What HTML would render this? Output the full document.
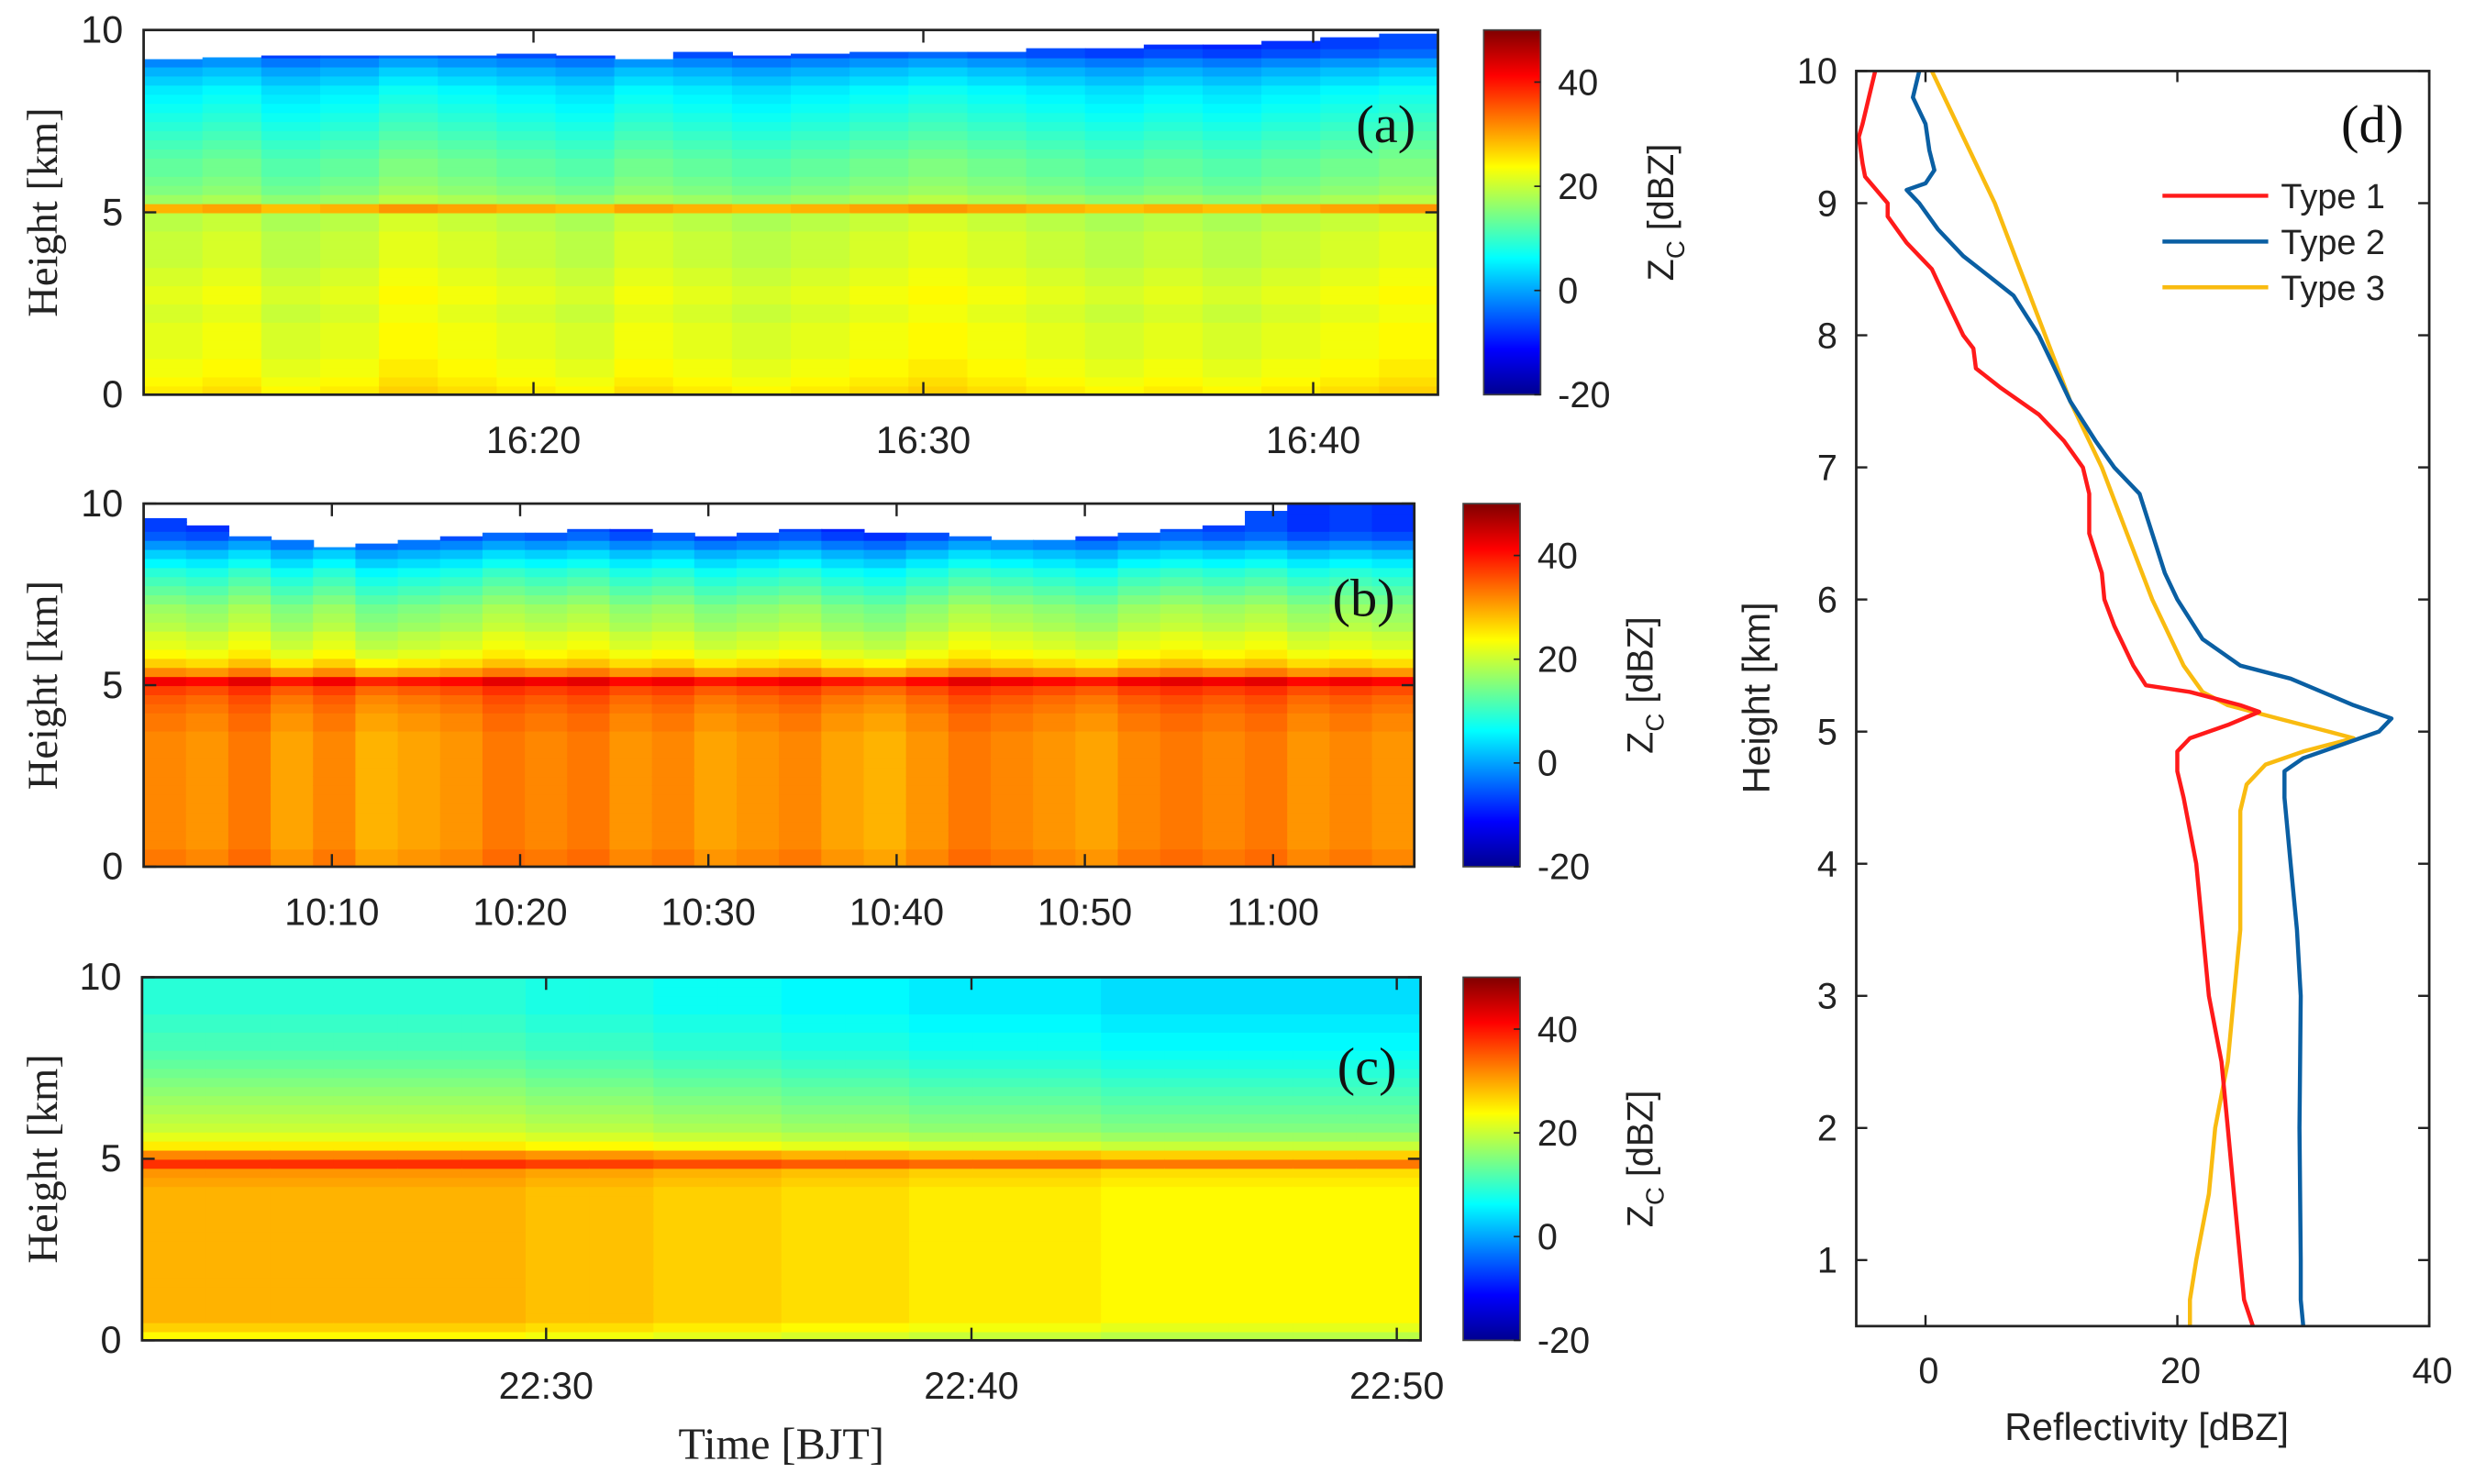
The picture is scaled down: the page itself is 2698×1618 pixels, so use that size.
<!DOCTYPE html>
<html><head><meta charset="utf-8">
<style>
html,body{margin:0;padding:0;background:#fff;}
svg{display:block;}
.sans{font-family:"Liberation Sans",Arial,sans-serif;}
.serif{font-family:"Liberation Serif","Times New Roman",serif;}
</style></head>
<body>
<svg id="fig" width="2698" height="1618" viewBox="0 0 1568 940" preserveAspectRatio="none" xmlns="http://www.w3.org/2000/svg">
<defs>
<linearGradient id="jetg" x1="0" y1="1" x2="0" y2="0">
<stop offset="0" stop-color="#00008f"/><stop offset="0.125" stop-color="#0000ff"/>
<stop offset="0.375" stop-color="#00ffff"/><stop offset="0.625" stop-color="#ffff00"/>
<stop offset="0.875" stop-color="#ff0000"/><stop offset="1" stop-color="#800000"/>
</linearGradient>
</defs>
</svg>
<script>
// ---- Heatmap data (dBZ), rows bottom->top every 0.25 km ----
const profileA = [25,24,23,23,22,22,22,22,21,21,22,22,21,21,20,20,20,20,19,19,29,17,15,14,13,13,12,11,10,9,8,7,6,5,3,1,-2,-6,-8,-8];
const offsetsA = [0,1,-1,0,2,1,0,-1,1,0,-1,0,1,2,1,0,-1,0,-1,0,1,2];
const topsA = [9.2,9.25,9.3,9.3,9.3,9.3,9.35,9.3,9.2,9.4,9.3,9.35,9.4,9.4,9.4,9.5,9.5,9.6,9.6,9.7,9.8,9.9];
const profileB = [32,32,31,31,31,31,31,31,31,31,31,31,31,31,31,32,32,33,34,36,41,31,26,23,21,20,18,17,16,14,12,10,8,5,2,-2,-6,-8,-8,-8];
const offsetsB = [1,0,2,-1,1,-2,-1,0,2,1,2,0,1,-1,0,1,-1,-2,0,2,1,0,-1,1,2,1,2,0,1,0];
const topsB = [9.6,9.4,9.1,9.0,8.8,8.9,9.0,9.1,9.2,9.2,9.3,9.3,9.2,9.1,9.2,9.3,9.3,9.2,9.2,9.1,9.0,9.0,9.1,9.2,9.3,9.4,9.8,10,10,10];
const profileC = [22,25,27,27,27,27,27,27,27,27,27,27,27,27,27,27,27,28,29,36,30,23,20,18,17,16,15,14,13,12,11,10,9,9,8,8,7,7,7,7];
const offsetsC = [2,2,2,2,2,2,1,1,0,0,-1,-1,-2,-2,-2,-3,-3,-3,-3,-3];
const topsC = [10,10,10,10,10,10,10,10,10,10,10,10,10,10,10,10,10,10,10,10];
const timeTicksA = [10,20,30]; const timeLabelsA = ["16:20","16:30","16:40"];
const timeTicksB = [10,20,30,40,50,60]; const timeLabelsB = ["10:10","10:20","10:30","10:40","10:50","11:00"];
const timeTicksC = [10,20,30]; const timeLabelsC = ["22:30","22:40","22:50"];
const heightTicks = [0,5,10];
const cbTicks = [-20,0,20,40];
// ---- Profile data (panel d) ----
const hT1 = [10,9.8,9.6,9.5,9.3,9.2,9.0,8.9,8.7,8.5,8.3,8.0,7.9,7.75,7.6,7.4,7.2,7.0,6.8,6.5,6.2,6.0,5.8,5.5,5.35,5.3,5.2,5.15,5.05,4.95,4.85,4.7,4.5,4.0,3.5,3.0,2.5,2.0,1.5,1.0,0.7,0.5];
const zT1 = [-4,-4.5,-5,-5.3,-5,-4.8,-3,-3,-1.5,0.5,1.5,3,3.8,4,6,9,11,12.5,13,13,14,14.2,15,16.5,17.5,21,25,26.5,24,21,20,20,20.5,21.5,22,22.5,23.5,24,24.5,25,25.3,26];
const hT2 = [10,9.8,9.6,9.4,9.25,9.15,9.1,9.0,8.8,8.6,8.45,8.3,8.0,7.8,7.5,7.2,7.0,6.8,6.5,6.2,6.0,5.7,5.5,5.4,5.2,5.1,5.0,4.9,4.8,4.7,4.5,4.0,3.5,3.0,2.0,1.0,0.7,0.5];
const zT2 = [-0.5,-1,0,0.3,0.7,0,-1.5,-0.5,1,3,5,7,9,10,11.5,13.5,15,17,18,19,20,22,25,29,34,37,36,33,30,28.5,28.5,29,29.5,29.8,29.7,29.8,29.8,30];
const hT3 = [10,9.5,9.0,8.5,8.0,7.5,7.2,7.0,6.5,6.0,5.5,5.3,5.2,5.1,5.0,4.95,4.85,4.75,4.6,4.4,4.0,3.5,3.0,2.5,2.0,1.5,1.0,0.7,0.5];
const zT3 = [0.5,3,5.5,7.5,9.5,11.5,13,14,16,18,20.5,22,24,28,32,34,30,27,25.5,25,25,25,24.5,24,23,22.5,21.5,21,21];
const dTicksX = [0,20,40]; const dTicksY = [1,2,3,4,5,6,7,8,9,10];

const NS="http://www.w3.org/2000/svg";
const svg=document.getElementById('fig');
function mk(tag,attrs,parent){const e=document.createElementNS(NS,tag);for(const k in attrs)e.setAttribute(k,attrs[k]);(parent||svg).appendChild(e);return e;}
function jet(v){let t=(v+20)/70;t=Math.max(0,Math.min(1,t));const c=x=>Math.round(255*Math.max(0,Math.min(1,1.5-Math.abs(x))));return `rgb(${c(4*t-3)},${c(4*t-2)},${c(4*t-1)})`;}

function panel(p){
  const g=mk('g',{});
  
  
  const W=p.x1-p.x0,H=p.y1-p.y0;
  const xs=t=>p.x0+(t-p.tmin)/(p.tmax-p.tmin)*W;
  const ys=h=>p.y1-h/10*H;
  const n=p.offsets.length, cw=W/n;
  const hm=mk('g',{},g);
  
  
  for(let c=0;c<n;c++){
    for(let r=0;r<p.profile.length;r++){
      const h0=r*0.25; if(h0>=p.tops[c]) continue;
      const h1=Math.min((r+1)*0.25,p.tops[c]);
      const cell=mk('rect',{x:p.x0+c*cw,y:ys(h1),width:cw+0.6,height:ys(h0)-ys(h1)+0.6,fill:jet(p.profile[r]+p.offsets[c])},hm);
      
      
    }
  }
  const fr=mk('rect',{x:p.x0,y:p.y0,width:W,height:H,fill:'none',stroke:'#222','stroke-width':1.6},g);
  
  
  p.ticks.forEach((t,i)=>{
    const x=xs(t);
    mk('line',{x1:x,y1:p.y1,x2:x,y2:p.y1-8,stroke:'#222','stroke-width':1.4},g);
    mk('line',{x1:x,y1:p.y0,x2:x,y2:p.y0+8,stroke:'#222','stroke-width':1.4},g);
    const tl=mk('text',{x:x,y:p.y1+37,'text-anchor':'middle','font-size':24,class:'sans',fill:'#222'},g);
    tl.textContent=p.labels[i];
    
    
  });
  heightTicks.forEach(h=>{
    const y=ys(h);
    mk('line',{x1:p.x0,y1:y,x2:p.x0+8,y2:y,stroke:'#222','stroke-width':1.4},g);
    mk('line',{x1:p.x1,y1:y,x2:p.x1-8,y2:y,stroke:'#222','stroke-width':1.4},g);
    const tl=mk('text',{x:p.x0-13,y:y+8,'text-anchor':'end','font-size':24,class:'sans',fill:'#222'},g);
    tl.textContent=h;
    
    
  });
  const yl=mk('text',{x:0,y:0,transform:`translate(36,${(p.y0+p.y1)/2}) rotate(-90)`,'text-anchor':'middle','font-size':27,class:'serif',fill:'#222'},g);
  yl.textContent='Height [km]';
  
  
  const pl=mk('text',{x:p.lx,y:p.ly,'text-anchor':'middle','font-size':34,class:'serif',fill:'#111'},g);
  pl.textContent='('+p.id+')';
  
  
  const cb=mk('rect',{x:p.cbx,y:p.y0,width:36,height:H,fill:'url(#jetg)',stroke:'#444','stroke-width':1},g);
  
  
  cbTicks.forEach(v=>{
    const y=p.y1-(v+20)/70*H;
    mk('line',{x1:p.cbx+36,y1:y,x2:p.cbx+32,y2:y,stroke:'#222','stroke-width':1},g);
    const tl=mk('text',{x:p.cbx+47,y:y+8,'font-size':23,class:'sans',fill:'#222'},g);
    tl.textContent=v;
    
    
  });
  const ct=mk('text',{x:0,y:0,transform:`translate(${p.cbx+120},${(p.y0+p.y1)/2}) rotate(-90)`,'text-anchor':'middle','font-size':23,class:'sans',fill:'#222'},g);
  ct.innerHTML='Z<tspan font-size="16" dy="7">C</tspan><tspan dy="-7"> [dBZ]</tspan>';
  
  
}
panel({id:'a',x0:91,x1:911,y0:19,y1:250,tmin:0,tmax:33.2,ticks:timeTicksA,labels:timeLabelsA,profile:profileA,offsets:offsetsA,tops:topsA,cbx:940,lx:878,ly:90});
panel({id:'b',x0:91,x1:896,y0:319,y1:549,tmin:0,tmax:67.5,ticks:timeTicksB,labels:timeLabelsB,profile:profileB,offsets:offsetsB,tops:topsB,cbx:927,lx:864,ly:390});
panel({id:'c',x0:90,x1:900,y0:619,y1:849,tmin:0.5,tmax:30.56,ticks:timeTicksC,labels:timeLabelsC,profile:profileC,offsets:offsetsC,tops:topsC,cbx:927,lx:866,ly:687});
const tt=mk('text',{x:495,y:924,'text-anchor':'middle','font-size':28,class:'serif',fill:'#222'});
tt.textContent='Time [BJT]';



// ---- Panel d ----
const D={x0:1176,x1:1539,y0:45,y1:840,xmin:-5.5,xmax:40,ymin:0.5,ymax:10};
const dx=v=>D.x0+(v-D.xmin)/(D.xmax-D.xmin)*(D.x1-D.x0);
const dy=h=>D.y1-(h-D.ymin)/(D.ymax-D.ymin)*(D.y1-D.y0);
const gd=mk('g',{});


function series(hs,zs,col,name){
  const pts=hs.map((h,i)=>dx(zs[i]).toFixed(1)+','+dy(h).toFixed(1)).join(' ');
  const pl=mk('polyline',{points:pts,fill:'none',stroke:col,'stroke-width':2.6,'stroke-linejoin':'round'},gd);
  
  
}
series(hT3,zT3,'#f9bb10','line-type-3');
series(hT2,zT2,'#0a5fa3','line-type-2');
series(hT1,zT1,'#ff1a1a','line-type-1');
const fd=mk('rect',{x:D.x0,y:D.y0,width:D.x1-D.x0,height:D.y1-D.y0,fill:'none',stroke:'#222','stroke-width':1.6},gd);


dTicksX.forEach(v=>{
  const x=dx(v);
  mk('line',{x1:x,y1:D.y1,x2:x,y2:D.y1-7,stroke:'#222','stroke-width':1.4},gd);
  mk('line',{x1:x,y1:D.y0,x2:x,y2:D.y0+7,stroke:'#222','stroke-width':1.4},gd);
  const tl=mk('text',{x:x+2,y:D.y1+36,'text-anchor':'middle','font-size':23,class:'sans',fill:'#222'},gd);
  tl.textContent=v;
  
  
});
dTicksY.forEach(v=>{
  const y=dy(v);
  mk('line',{x1:D.x0,y1:y,x2:D.x0+7,y2:y,stroke:'#222','stroke-width':1.4},gd);
  mk('line',{x1:D.x1,y1:y,x2:D.x1-7,y2:y,stroke:'#222','stroke-width':1.4},gd);
  const tl=mk('text',{x:D.x0-12,y:y+8,'text-anchor':'end','font-size':23,class:'sans',fill:'#222'},gd);
  tl.textContent=v;
  
  
});
const dyl=mk('text',{x:0,y:0,transform:'translate(1121,442) rotate(-90)','text-anchor':'middle','font-size':24,class:'sans',fill:'#222'},gd);
dyl.textContent='Height [km]';


const dxl=mk('text',{x:1360,y:912,'text-anchor':'middle','font-size':24,class:'sans',fill:'#222'},gd);
dxl.textContent='Reflectivity [dBZ]';


const dl=mk('text',{x:1503,y:90,'text-anchor':'middle','font-size':34,class:'serif',fill:'#111'},gd);
dl.textContent='(d)';


const legNames=['Type 1','Type 2','Type 3'];
const legCols=['#ff1a1a','#0a5fa3','#f9bb10'];
legNames.forEach((nm,i)=>{
  const y=124+i*29;
  const ln=mk('line',{x1:1370,y1:y,x2:1437,y2:y,stroke:legCols[i],'stroke-width':2.6},gd);
  
  
  const t=mk('text',{x:1445,y:y+8,'font-size':22,class:'sans',fill:'#222'},gd);
  t.textContent=nm;
  
  
});
</script>
</body></html>
